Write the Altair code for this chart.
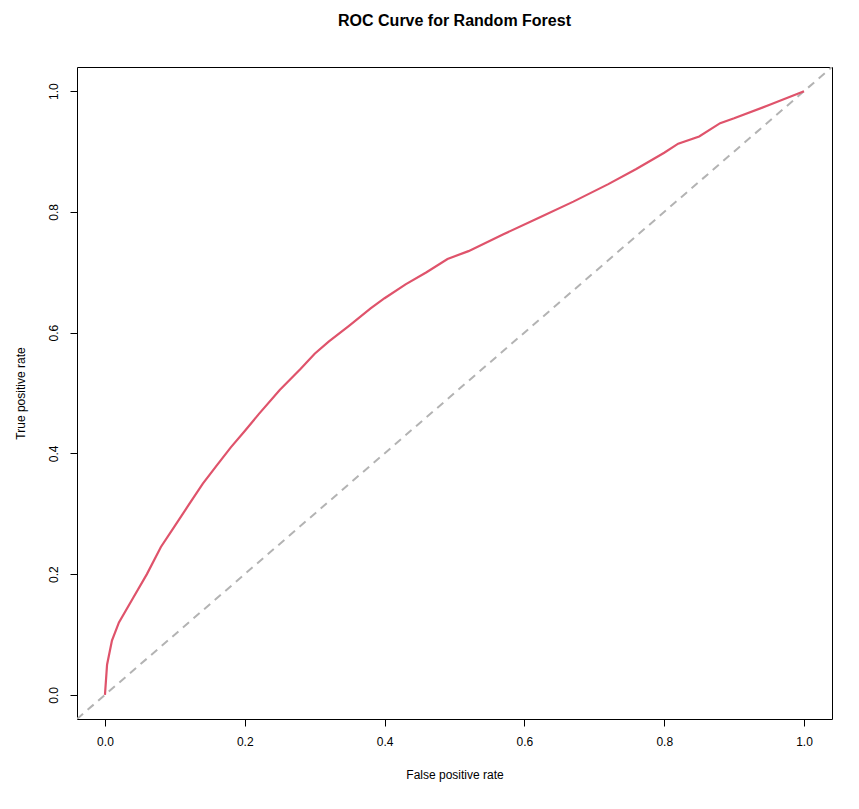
import altair as alt
import pandas as pd

fpr = [0.0, 0.003, 0.01, 0.02, 0.04, 0.06, 0.08, 0.1, 0.12, 0.14, 0.16, 0.18, 0.2, 0.22,
       0.25, 0.28, 0.3, 0.32, 0.35, 0.38, 0.4, 0.43, 0.46, 0.49, 0.52, 0.57, 0.62, 0.67,
       0.72, 0.76, 0.8, 0.82, 0.85, 0.88, 0.9, 0.95, 1.0]
tpr = [0.0, 0.05, 0.09, 0.12, 0.16, 0.2, 0.245, 0.28, 0.315, 0.35, 0.38, 0.41, 0.437, 0.465,
       0.505, 0.54, 0.565, 0.585, 0.612, 0.64, 0.657, 0.68, 0.7, 0.722, 0.735, 0.763, 0.79, 0.817,
       0.846, 0.871, 0.898, 0.913, 0.925, 0.947, 0.955, 0.977, 1.0]

df = pd.DataFrame({"fpr": fpr, "tpr": tpr})
diag = pd.DataFrame({"fpr": [-0.04, 1.04], "tpr": [-0.04, 1.04]})

font = "Liberation Sans"
xs = alt.Scale(domain=[-0.04, 1.04], nice=False, zero=False)
ys = alt.Scale(domain=[-0.04, 1.04], nice=False, zero=False)
ticks = [0, 0.2, 0.4, 0.6, 0.8, 1.0]

xax = alt.Axis(values=ticks, format=".1f", grid=False, domain=False, tickColor="black",
               labelColor="black", labelFontSize=12, titleFontSize=12, titleFontWeight="normal",
               titlePadding=22, labelPadding=10, tickSize=7, labelFont=font, titleFont=font)
yax = alt.Axis(values=ticks, format=".1f", grid=False, domain=False, tickColor="black",
               labelColor="black", labelFontSize=12, titleFontSize=12, titleFontWeight="normal",
               labelAngle=-90, labelAlign="center", labelBaseline="bottom",
               titlePadding=20, labelPadding=10, tickSize=7, labelFont=font, titleFont=font)

line = alt.Chart(df).mark_line(color="#DF536B", strokeWidth=2.2).encode(
    x=alt.X("fpr:Q", scale=xs, axis=xax, title="False positive rate"),
    y=alt.Y("tpr:Q", scale=ys, axis=yax, title="True positive rate"),
    order="fpr:Q",
)

ref = alt.Chart(diag).mark_line(color="#B3B3B3", strokeDash=[8, 6], strokeWidth=2, clip=True).encode(
    x=alt.X("fpr:Q", scale=xs),
    y=alt.Y("tpr:Q", scale=ys),
)

chart = alt.layer(ref, line).properties(
    width=755, height=652, background="white",
    title=alt.TitleParams("ROC Curve for Random Forest", fontSize=16, fontWeight="bold",
                          font=font, offset=38),
).configure_view(stroke="black", strokeWidth=1)

chart.save("out.html", embed_options={"renderer": "svg", "actions": False})
